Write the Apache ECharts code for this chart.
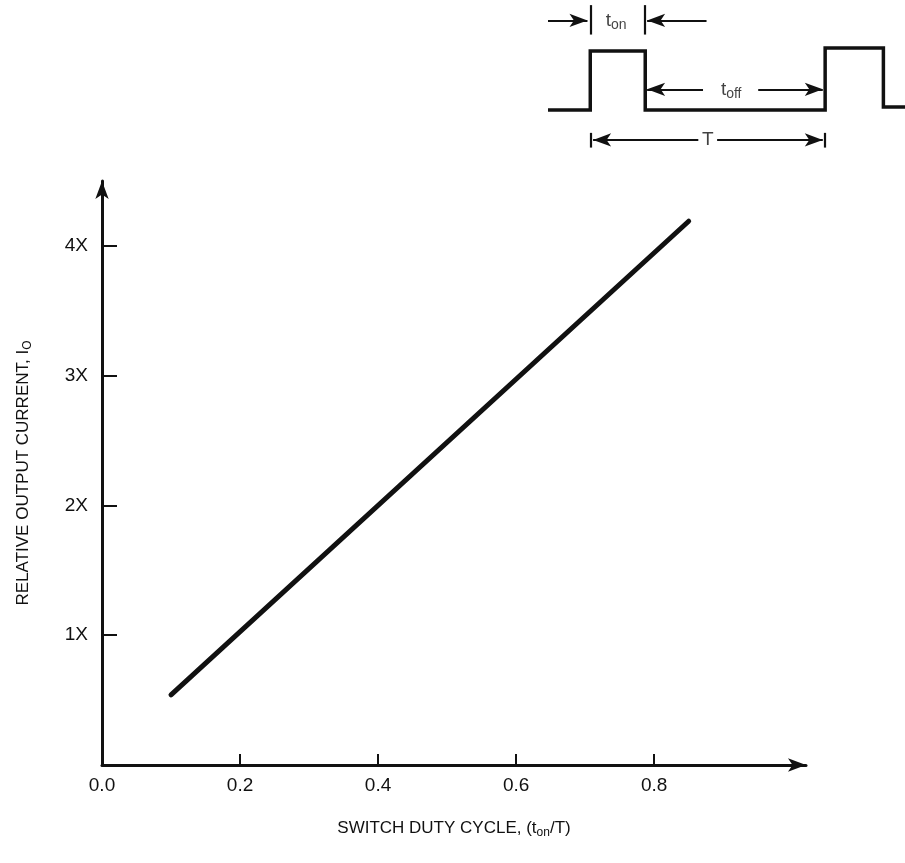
<!DOCTYPE html>
<html lang="en">
<head>
    <meta charset="UTF-8">
    <script src="https://cdn.jsdelivr.net/npm/echarts@6/dist/echarts.min.js"></script>
    <title>Relative output current vs switch duty cycle</title>
    <style>
        html, body { height: 100%; }
        * { padding: 0; margin: 0; }
        body { background: #fff; }
    </style>
</head>
<body>
    <div id="chart" style="width: 905px;height: 863px;"></div>
    <script>
        // main curve
        var duty = [0.1, 0.85];
        var current = [0.54, 4.19];
        var xTickValues = [0.2, 0.4, 0.6, 0.8];
        var xLabelValues = [0, 0.2, 0.4, 0.6, 0.8];
        var yTickValues = [1, 2, 3, 4];

        // pulse sketch (time in periods T, level 0 = off, 1 = on)
        var pulseTime = [-0.18, 0, 0, 0.234, 0.234, 1, 1, 1.248, 1.248, 1.34];
        var pulseLevel = [0, 0, 1, 1, 0, 0, 1.05, 1.05, 0.05, 0.05];
        // arrows: [from, to], head at "to"
        var pulseArrows = [
            [[-0.18, 1.52], [-0.012, 1.52]],
            [[0.495, 1.52], [0.242, 1.52]],
            [[0.48, 0.35], [0.242, 0.35]],
            [[0.715, 0.35], [0.99, 0.35]],
            [[0.46, -0.51], [0.012, -0.51]],
            [[0.54, -0.51], [0.99, -0.51]]
        ];
        // bars: [t, fromLevel, toLevel]
        var pulseBars = [
            [0, 1.28, 1.78],
            [0.232, 1.28, 1.78],
            [0, -0.39, -0.64],
            [1, -0.39, -0.64]
        ];
        var pulseLabels = [
            { t: 0.11, level: 1.52, text: '{t|t}{s|on}' },
            { t: 0.6, level: 0.35, text: '{t|t}{s|off}' },
            { t: 0.5, level: -0.51, text: '{t|T}' }
        ];

        var font = 'Liberation Sans';
        var ink = '#111111';

        var curveData = duty.map(function (d, i) { return [d, current[i]]; });
        var pulseData = pulseTime.map(function (t, i) { return [t, pulseLevel[i]]; });

        var markLines = [];
        pulseArrows.forEach(function (a) {
            markLines.push([
                { coord: a[0], symbol: 'none' },
                { coord: a[1], symbol: 'arrow', symbolSize: [10, 18] }
            ]);
        });
        pulseBars.forEach(function (b) {
            markLines.push([
                { coord: [b[0], b[1]], symbol: 'none' },
                { coord: [b[0], b[2]], symbol: 'none' }
            ]);
        });

        var richText = {
            t: { fontSize: 19, color: ink, fontFamily: font, lineHeight: 24, verticalAlign: 'middle' },
            s: { fontSize: 14, color: ink, fontFamily: font, lineHeight: 6, verticalAlign: 'bottom' },
            n: { fontSize: 17, color: ink, fontFamily: font, lineHeight: 22, verticalAlign: 'middle' },
            sub: { fontSize: 12, color: ink, fontFamily: font, lineHeight: 6, verticalAlign: 'bottom' }
        };

        var myChart = echarts.init(document.getElementById('chart'), null, { renderer: 'canvas' });
        var option = {
            backgroundColor: '#ffffff',
            animation: false,
            grid: [
                { left: 102, right: 99, top: 181, bottom: 98 },
                { left: 548, top: 1, width: 357, height: 156 }
            ],
            xAxis: [
                {
                    type: 'value',
                    min: 0,
                    max: 1.02,
                    interval: 0.2,
                    name: '{n|SWITCH DUTY CYCLE, (t}{sub|on}{n|/T)}',
                    nameLocation: 'middle',
                    nameGap: 52,
                    nameTextStyle: { rich: richText },
                    splitLine: { show: false },
                    axisLine: {
                        show: true,
                        symbol: ['none', 'arrow'],
                        symbolSize: [10, 18],
                        lineStyle: { color: ink, width: 3 }
                    },
                    axisTick: {
                        show: true,
                        inside: true,
                        length: 11,
                        customValues: xTickValues,
                        lineStyle: { color: ink, width: 2 }
                    },
                    axisLabel: {
                        customValues: xLabelValues,
                        margin: 11,
                        fontSize: 19,
                        color: ink,
                        fontFamily: font,
                        formatter: function (v) { return v.toFixed(1); }
                    }
                },
                { type: 'value', gridIndex: 1, min: -0.18, max: 1.34, show: false }
            ],
            yAxis: [
                {
                    type: 'value',
                    min: 0,
                    max: 4.5,
                    interval: 1,
                    name: '{n|RELATIVE OUTPUT CURRENT, I}{sub|O}',
                    nameLocation: 'middle',
                    nameGap: 68,
                    nameRotate: 90,
                    nameTextStyle: { rich: richText },
                    splitLine: { show: false },
                    axisLine: {
                        show: true,
                        symbol: ['none', 'arrow'],
                        symbolSize: [10, 18],
                        lineStyle: { color: ink, width: 3 }
                    },
                    axisTick: {
                        show: true,
                        inside: true,
                        length: 15,
                        customValues: yTickValues,
                        lineStyle: { color: ink, width: 2 }
                    },
                    axisLabel: {
                        customValues: yTickValues,
                        margin: 14,
                        fontSize: 19,
                        color: ink,
                        fontFamily: font,
                        formatter: function (v) { return v + 'X'; }
                    }
                },
                { type: 'value', gridIndex: 1, min: -0.8, max: 1.85, show: false }
            ],
            series: [
                {
                    type: 'line',
                    data: curveData,
                    symbol: 'none',
                    lineStyle: { color: ink, width: 5, cap: 'round' }
                },
                {
                    type: 'line',
                    xAxisIndex: 1,
                    yAxisIndex: 1,
                    data: pulseData,
                    symbol: 'none',
                    lineStyle: { color: ink, width: 3.5, join: 'miter' },
                    markLine: {
                        silent: true,
                        animation: false,
                        symbol: ['none', 'none'],
                        label: { show: false },
                        lineStyle: { color: ink, width: 2.2, type: 'solid' },
                        emphasis: { disabled: true },
                        data: markLines
                    }
                },
                {
                    type: 'scatter',
                    xAxisIndex: 1,
                    yAxisIndex: 1,
                    symbolSize: 0,
                    silent: true,
                    data: pulseLabels.map(function (p) {
                        return { value: [p.t, p.level], name: p.text };
                    }),
                    label: {
                        show: true,
                        position: 'inside',
                        color: ink,
                        formatter: function (p) { return p.name; },
                        rich: richText
                    }
                }
            ]
        };
        myChart.setOption(option);
    </script>
</body>
</html>
